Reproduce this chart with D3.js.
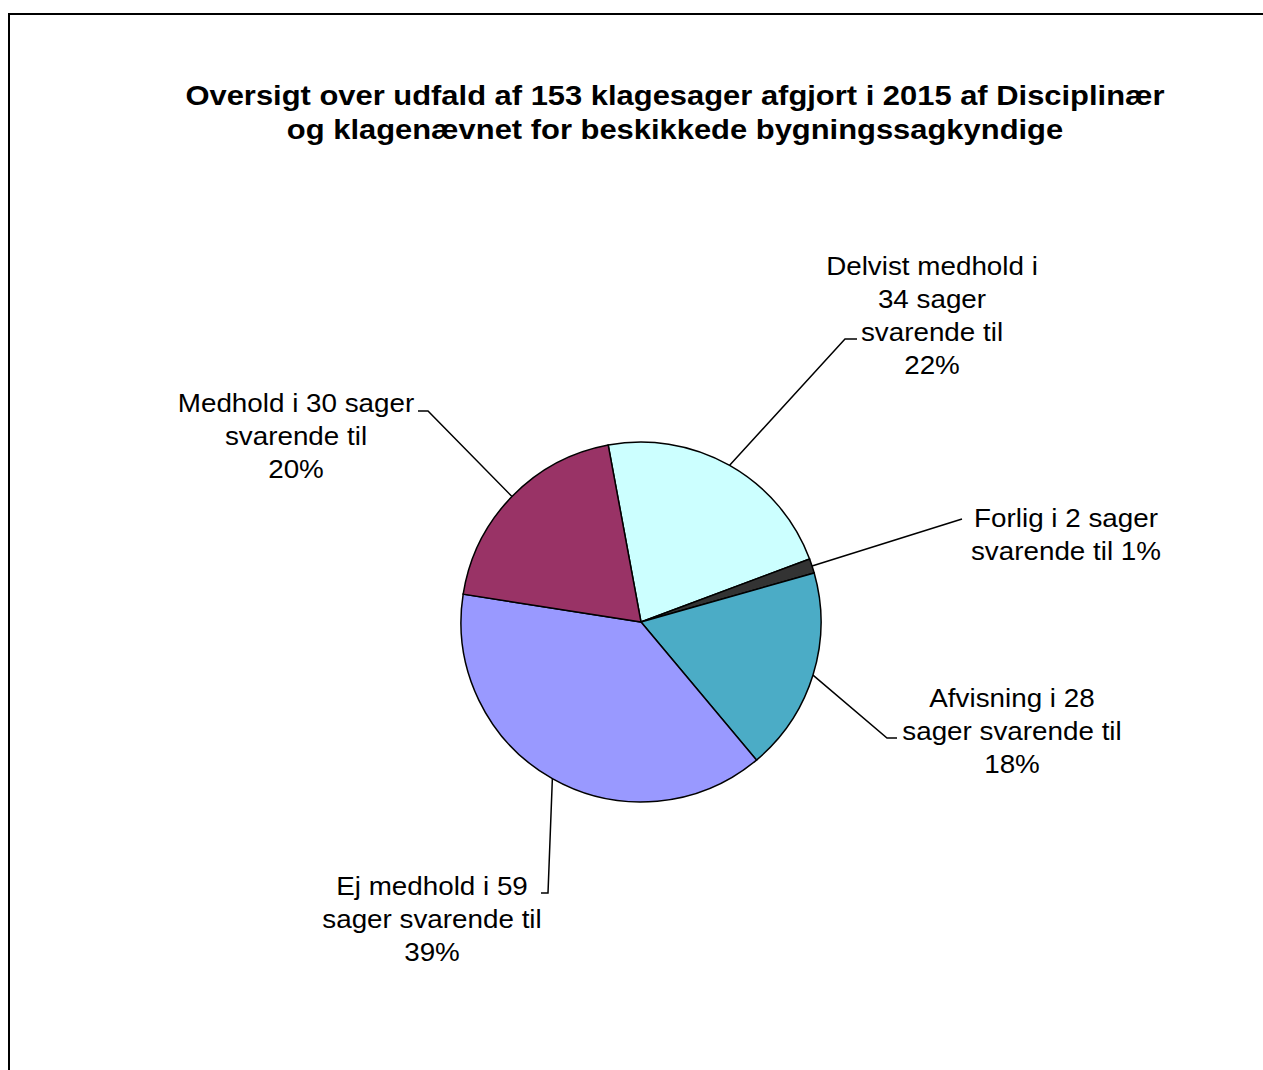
<!DOCTYPE html>
<html>
<head>
<meta charset="utf-8">
<script src="https://cdn.jsdelivr.net/npm/d3@7"></script>
<style>
  body { margin: 0; background: #fff; }
  svg { display: block; font-family: Arial, "Liberation Sans", sans-serif; }
</style>
</head>
<body>
<svg id="chart" width="1263" height="1070"></svg>
<script>
// Data
const categories = ["Delvist medhold", "Forlig", "Afvisning", "Ej medhold", "Medhold"];
const cases = [34, 2, 28, 59, 30];
const percents = [22, 1, 18, 39, 20];
const labelLines = [
    ["Delvist medhold i", "34 sager", "svarende til", "22%"],
    ["Forlig i 2 sager", "svarende til 1%"],
    ["Afvisning i 28", "sager svarende til", "18%"],
    ["Ej medhold i 59", "sager svarende til", "39%"],
    ["Medhold i 30 sager", "svarende til", "20%"]
];
const colors = ["#CCFFFF", "#333333", "#4BACC6", "#9999FF", "#993366"];
const titleLines = [
    "Oversigt over udfald af 153 klagesager afgjort i 2015 af Disciplinær",
    "og klagenævnet for beskikkede bygningssagkyndige"
];

// Label layout: text center x, first baseline y, leader elbow and end
const labelLayout = [
    {x: 932, y: 275, elbow: [845, 339], end: [857, 339]},
    {x: 1066, y: 527, elbow: [962, 519], end: [962, 519]},
    {x: 1012, y: 707, elbow: [887, 738], end: [897, 738]},
    {x: 432, y: 895, elbow: [548, 893], end: [541, 893]},
    {x: 296, y: 412, elbow: [428, 411], end: [418, 411]}
];

const svg = d3.select("#chart");
const cx = 641, cy = 622, radius = 180;
const lineHeight = 33;

// Frame (right and bottom edges run off the picture)
svg.append("rect")
    .attr("x", 9).attr("y", 14)
    .attr("width", 1300).attr("height", 1100)
    .attr("fill", "none")
    .attr("stroke", "#000")
    .attr("stroke-width", 2);

// Title (text in the original is a bit wider than plain Arial)
svg.append("g")
    .attr("transform", "translate(675,0) scale(1.145,1)")
    .append("text")
    .attr("x", 0).attr("y", 105)
    .attr("text-anchor", "middle")
    .style("font-size", "27px")
    .style("font-weight", "bold")
    .selectAll("tspan")
    .data(titleLines)
    .enter()
    .append("tspan")
    .attr("x", 0)
    .attr("dy", (d, i) => i === 0 ? 0 : 34)
    .text(d => d);

// Pie
const offset = -10.5 * Math.PI / 180;
const pie = d3.pie().sort(null).startAngle(offset).endAngle(offset + 2 * Math.PI);
const arcs = pie(cases);
const arc = d3.arc().innerRadius(0).outerRadius(radius);

const g = svg.append("g").attr("transform", `translate(${cx},${cy})`);

g.selectAll("path")
    .data(arcs)
    .enter()
    .append("path")
    .attr("d", arc)
    .attr("fill", (d, i) => colors[i])
    .attr("stroke", "#000")
    .attr("stroke-width", 1.5);

// Leader lines from slice edge
arcs.forEach((d, i) => {
    const mid = (d.startAngle + d.endAngle) / 2;
    const px = cx + radius * Math.sin(mid);
    const py = cy - radius * Math.cos(mid);
    const L = labelLayout[i];
    svg.append("polyline")
        .attr("points", [[px, py], L.elbow, L.end].map(p => p.join(",")).join(" "))
        .attr("fill", "none")
        .attr("stroke", "#000")
        .attr("stroke-width", 1.5);
});

// Labels
labelLines.forEach((lines, i) => {
    const L = labelLayout[i];
    svg.append("g")
        .attr("transform", `translate(${L.x},0) scale(1.07,1)`)
        .append("text")
        .attr("x", 0).attr("y", L.y)
        .attr("text-anchor", "middle")
        .style("font-size", "26px")
        .attr("fill", "#000")
        .selectAll("tspan")
        .data(lines)
        .enter()
        .append("tspan")
        .attr("x", 0)
        .attr("dy", (d, j) => j === 0 ? 0 : lineHeight)
        .text(d => d);
});
</script>
</body>
</html>
